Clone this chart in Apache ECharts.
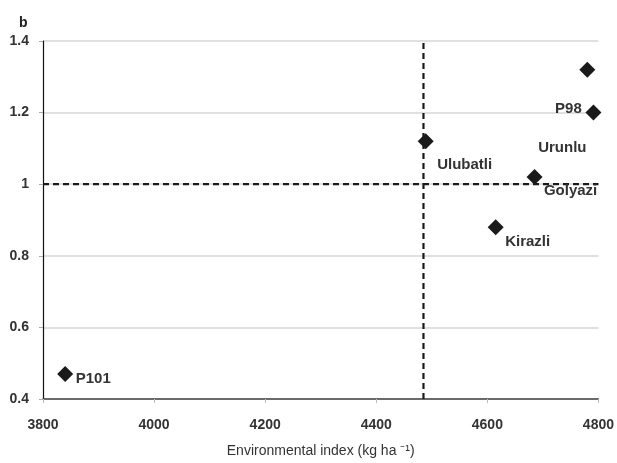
<!DOCTYPE html>
<html>
<head>
<meta charset="utf-8">
<script src="https://cdn.jsdelivr.net/npm/echarts@6/dist/echarts.min.js"></script>
<style>
  html, body { margin: 0; padding: 0; background: #fff; }
  #chart { width: 617px; height: 463px; }
</style>
</head>
<body>
<div id="chart"></div>
<script>
// Genotypes / sites and their environmental index vs regression coefficient b
const names = ['P101', 'Ulubatli', 'Kirazli', 'Golyazi', 'P98', 'Urunlu'];
const envIndex = [3840, 4489, 4615, 4685, 4791, 4780];
const bValues = [0.47, 1.12, 0.88, 1.02, 1.20, 1.32];

// Reference lines: mean environmental index and b = 1
const meanIndex = 4485;
const bReference = 1;

// Axis ranges and ticks
const xTicks = [3800, 4000, 4200, 4400, 4600, 4800];
const yTicks = [0.4, 0.6, 0.8, 1, 1.2, 1.4];

// Label placement around each marker (pixels)
const labelOffsets = {
  'P101': [28, 5],
  'Ulubatli': [39, 24],
  'Kirazli': [32, 15],
  'Golyazi': [36, 14],
  'P98': [-25, -4],
  'Urunlu': [-25, 78]
};

const points = names.map((n, i) => ({
  name: n,
  value: [envIndex[i], bValues[i]],
  label: { offset: labelOffsets[n] }
}));

const fontFamily = '"Liberation Sans", Arial, sans-serif';

const chart = echarts.init(document.getElementById('chart'), null, { renderer: 'canvas' });
chart.setOption({
  animation: false,
  backgroundColor: '#fff',
  title: {
    text: 'b',
    left: 14,
    top: 11,
    textStyle: { fontFamily, fontSize: 14, fontWeight: 'bold', color: '#222' }
  },
  grid: { left: 43, right: 18, top: 41, bottom: 60 },
  xAxis: {
    type: 'value',
    min: xTicks[0],
    max: xTicks[xTicks.length - 1],
    interval: 200,
    name: 'Environmental index (kg ha \u207B\u00B9)',
    nameLocation: 'middle',
    nameGap: 45,
    nameTextStyle: { fontFamily, fontSize: 14, color: '#333' },
    axisLine: { lineStyle: { color: '#444', width: 1.5 } },
    axisTick: { show: true, length: 4, lineStyle: { color: '#bbb' } },
    axisLabel: {
      margin: 19, fontFamily, fontSize: 14, fontWeight: 'bold', color: '#333',
      formatter: v => String(v)
    },
    splitLine: { show: false }
  },
  yAxis: {
    type: 'value',
    min: yTicks[0],
    max: yTicks[yTicks.length - 1],
    interval: 0.2,
    axisLine: { show: true, lineStyle: { color: '#111', width: 1.2 } },
    axisTick: { show: true, length: 4, lineStyle: { color: '#aaa' } },
    axisLabel: {
      margin: 14, fontFamily, fontSize: 14, fontWeight: 'bold', color: '#333',
      formatter: v => String(Math.round(v * 10) / 10)
    },
    splitLine: { show: true, lineStyle: { color: '#d6d6d6', width: 1.5 } }
  },
  series: [
    {
      type: 'line',
      data: [[meanIndex, yTicks[0]], [meanIndex, yTicks[yTicks.length - 1]]],
      symbol: 'none',
      lineStyle: { color: '#1a1a1a', width: 2.2, type: [6, 4] },
      silent: true
    },
    {
      type: 'line',
      data: [[xTicks[0], bReference], [xTicks[xTicks.length - 1], bReference]],
      symbol: 'none',
      lineStyle: { color: '#1a1a1a', width: 2.2, type: [6, 4] },
      silent: true
    },
    {
      type: 'scatter',
      symbol: 'diamond',
      symbolSize: 16,
      itemStyle: { color: '#1a1a1a', opacity: 1 },
      data: points,
      label: {
        show: true,
        position: 'inside',
        align: 'center',
        verticalAlign: 'middle',
        formatter: p => p.name,
        fontFamily,
        fontSize: 15,
        fontWeight: 'bold',
        color: '#333'
      },
      z: 5
    }
  ]
});
</script>
</body>
</html>
